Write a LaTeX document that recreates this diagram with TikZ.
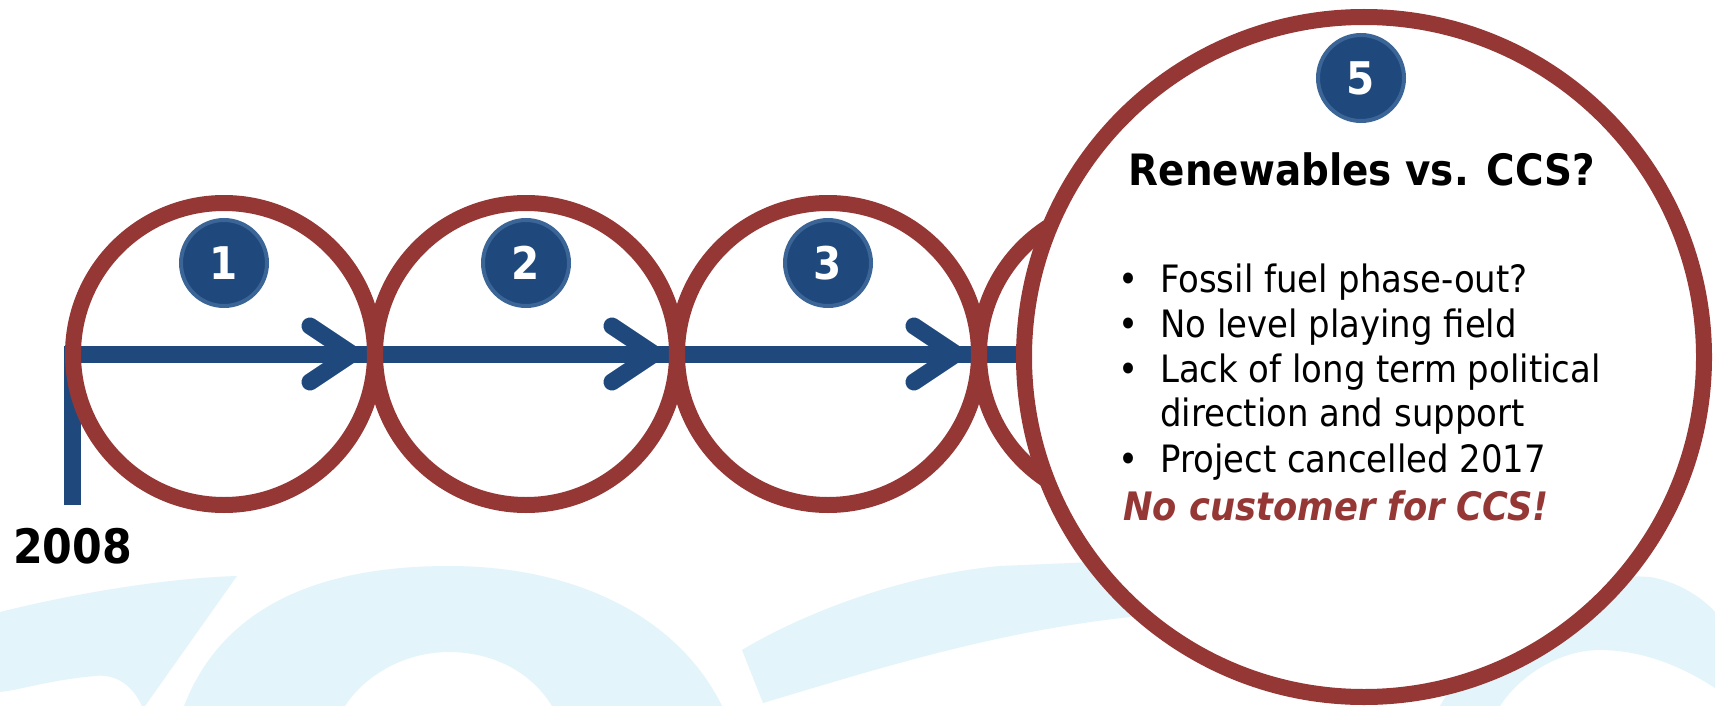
\documentclass[tikz,border=0pt]{standalone}
\usepackage{fontspec}
\setmainfont[FakeStretch=0.9]{DejaVu Sans}
\definecolor{ringred}{HTML}{953735}
\definecolor{navy}{HTML}{1F497D}
\definecolor{navyedge}{HTML}{3B6596}
\definecolor{bgblue}{HTML}{E3F5FA}
\begin{document}
\begin{tikzpicture}[x=1pt,y=-1pt,
  ring/.style={circle, draw=ringred, line width=16pt, minimum size=302pt, inner sep=0pt},
  bigring/.style={circle, draw=ringred, fill=white, line width=16pt, minimum size=680pt, inner sep=0pt},
  badge/.style={circle, fill=navy, draw=navyedge, line width=4pt, minimum size=86pt, inner sep=0pt,
    text=white, font=\fontsize{45}{45}\selectfont\bfseries},
  timeline/.style={draw=navy, line width=17pt, line join=miter},
  chevron/.style={draw=navy, line width=17pt, line cap=round, line join=miter},
  bgshape/.style={fill=bgblue},
  txt/.style={inner sep=0pt, anchor=base west},
  bodytxt/.style={txt, font=\fontsize{37.7}{45}\selectfont}]

\useasboundingbox (0,0) rectangle (1715,706);
\fill[white] (0,0) rectangle (1715,706);

% pale background lettering
\fill[bgshape] (0,612) .. controls (80,592) and (170,578) .. (237,576)
  -- (145,706) -- (142,706) .. controls (130,680) and (110,674) .. (95,676)
  .. controls (50,680) and (20,690) .. (0,692) -- cycle;
\fill[bgshape] (184,706) .. controls (225,600) and (330,566) .. (449,566)
  .. controls (580,566) and (680,620) .. (722,706) -- (552,706)
  .. controls (530,670) and (490,652) .. (449,652)
  .. controls (405,652) and (365,675) .. (345,706) -- cycle;
\fill[bgshape] (742,650) .. controls (800,615) and (900,575) .. (1000,566)
  -- (1140,560) -- (1140,616) .. controls (1000,630) and (880,668) .. (763,703)
  -- cycle;
\fill[bgshape] (1440,706) .. controls (1500,600) and (1590,572) .. (1650,577)
  .. controls (1680,582) and (1705,600) .. (1715,612) -- (1715,688)
  .. controls (1680,665) and (1640,650) .. (1600,650)
  .. controls (1560,650) and (1520,675) .. (1500,706) -- cycle;

% timeline
\coordinate (tbot) at (72,505);
\coordinate (tcorner) at (72,354);
\coordinate (tend) at (1100,354);
\draw[timeline] (tbot) -- (tcorner) -- (tend);

% chevrons along the timeline
\foreach \i/\cx in {1/224, 2/526, 3/828} {
  \coordinate (tip\i) at (\cx+128,354);
  \coordinate (up\i) at (\cx+86,326);
  \coordinate (dn\i) at (\cx+86,382);
  \draw[chevron] (up\i) -- (tip\i) -- (dn\i);
}

% stage rings
\node[ring] (c1) at (224,354) {};
\node[ring] (c2) at (526,354) {};
\node[ring] (c3) at (828,354) {};
\node[ring] (c4) at (1130,354) {};
\node[bigring] (c5) at (1364,357) {};

% numbered badges
\node[badge] (n1) at (224,263) {1};
\node[badge] (n2) at (526,263) {2};
\node[badge] (n3) at (828,263) {3};
\node[badge] (n5) at (1361,78) {5};

% texts
\node[txt, font=\fontsize{47.5}{48}\selectfont\bfseries] (year) at (13,563) {2008};
\node[inner sep=0pt, anchor=base, font=\fontsize{43.2}{44}\selectfont\bfseries] (title) at (1362,185) {Renewables vs. CCS?};
\node[bodytxt] (b1) at (1118,292) {\makebox[42pt][l]{•}Fossil fuel phase-out?};
\node[bodytxt] (b2) at (1118,337) {\makebox[42pt][l]{•}No level playing field};
\node[bodytxt] (b3) at (1118,382) {\makebox[42pt][l]{•}Lack of long term political};
\node[bodytxt] (b3b) at (1160,426) {direction and support};
\node[bodytxt] (b4) at (1118,472) {\makebox[42pt][l]{•}Project cancelled 2017};
\node[txt, text=ringred, font=\fontsize{39.2}{40}\selectfont\bfseries\itshape] (slogan) at (1123,520) {No customer for CCS!};
\end{tikzpicture}
\end{document}
